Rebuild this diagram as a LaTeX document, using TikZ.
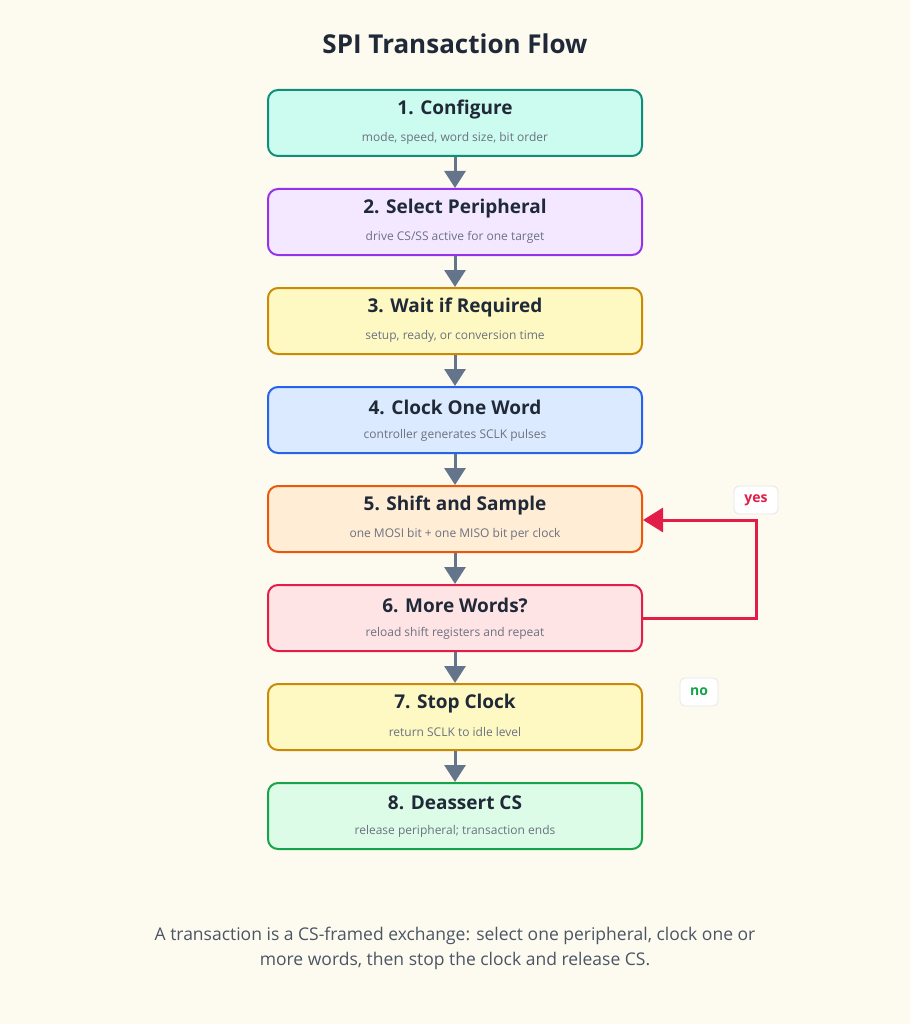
\documentclass[tikz,border=0pt]{standalone}
\usepackage{fontspec}
\setmainfont{Open Sans}
\usetikzlibrary{arrows.meta}
\definecolor{bg}{HTML}{FDFBF0}
\definecolor{ink}{HTML}{1F2937}
\definecolor{sub}{HTML}{6B7280}
\definecolor{capc}{HTML}{4B5563}
\definecolor{arr}{HTML}{64748B}
\definecolor{loopc}{HTML}{E11D48}
\definecolor{noc}{HTML}{16A34A}
\definecolor{d1}{HTML}{0F8F7A}\definecolor{f1}{HTML}{CCFBEF}
\definecolor{d2}{HTML}{9333EA}\definecolor{f2}{HTML}{F3E8FF}
\definecolor{d3}{HTML}{CA8A04}\definecolor{f3}{HTML}{FEF9C3}
\definecolor{d4}{HTML}{2563EB}\definecolor{f4}{HTML}{DBEAFE}
\definecolor{d5}{HTML}{EA580C}\definecolor{f5}{HTML}{FFEDD5}
\definecolor{d6}{HTML}{E11D48}\definecolor{f6}{HTML}{FFE4E6}
\definecolor{d8}{HTML}{16A34A}\definecolor{f8}{HTML}{DCFCE7}
\tikzset{x=1pt,y=-1pt,
 stepbox/.style={draw,line width=2pt,rounded corners=10pt,minimum width=374pt,minimum height=66pt,inner sep=0pt},
 flow/.style={draw=arr,line width=3pt,-{Triangle[length=17pt,width=21pt]}},
 tag/.style={draw=gray!20,fill=white,rounded corners=5pt,line width=0.8pt,font=\bfseries\fontsize{14}{16}\selectfont,minimum width=40pt,minimum height=28pt}}
\newcommand{\stp}[6]{%
 \node[stepbox,draw=#3,fill=#4] (#1) at (455,#2) {};
 \node[font=\bfseries\fontsize{19}{22}\selectfont,text=ink] at (455,#2-13) {#5};
 \node[font=\fontsize{12}{14}\selectfont,text=sub] at (455,#2+15) {#6};}
\begin{document}
\begin{tikzpicture}
\fill[bg] (0,0) rectangle (910,1024);
\useasboundingbox (0,0) rectangle (910,1024);
\node[font=\bfseries\fontsize{26}{30}\selectfont,text=ink] (title) at (455,44) {SPI Transaction Flow};
\stp{s1}{123}{d1}{f1}{1. Configure}{mode, speed, word size, bit order}
\stp{s2}{222}{d2}{f2}{2. Select Peripheral}{drive CS/SS active for one target}
\stp{s3}{321}{d3}{f3}{3. Wait if Required}{setup, ready, or conversion time}
\stp{s4}{420}{d4}{f4}{4. Clock One Word}{controller generates SCLK pulses}
\stp{s5}{519}{d5}{f5}{5. Shift and Sample}{one MOSI bit + one MISO bit per clock}
\stp{s6}{618}{d6}{f6}{6. More Words?}{reload shift registers and repeat}
\stp{s7}{717}{d3}{f3}{7. Stop Clock}{return SCLK to idle level}
\stp{s8}{816}{d8}{f8}{8. Deassert CS}{release peripheral; transaction ends}
\foreach \a/\b in {s1/s2,s2/s3,s3/s4,s4/s5,s5/s6,s6/s7,s7/s8}
  \draw[flow] (\a.south) -- (\b.north);
\coordinate (c1) at (756,618);
\coordinate (c2) at (756,520);
\draw[loopc,line width=3pt,-{Triangle[length=20pt,width=24pt]}] (s6.east) -- (c1) -- (c2) -- (s5.east |- c2);
\node[tag,text=loopc,minimum width=44pt] (yes) at (756,500) {yes};
\node[tag,text=noc,minimum width=38pt] (no) at (699,692) {no};
\node[font=\fontsize{17.5}{25}\selectfont,text=capc,align=center] (cap) at (455,948) {A transaction is a CS-framed exchange: select one peripheral, clock one or\\more words, then stop the clock and release CS.};
\end{tikzpicture}
\end{document}
